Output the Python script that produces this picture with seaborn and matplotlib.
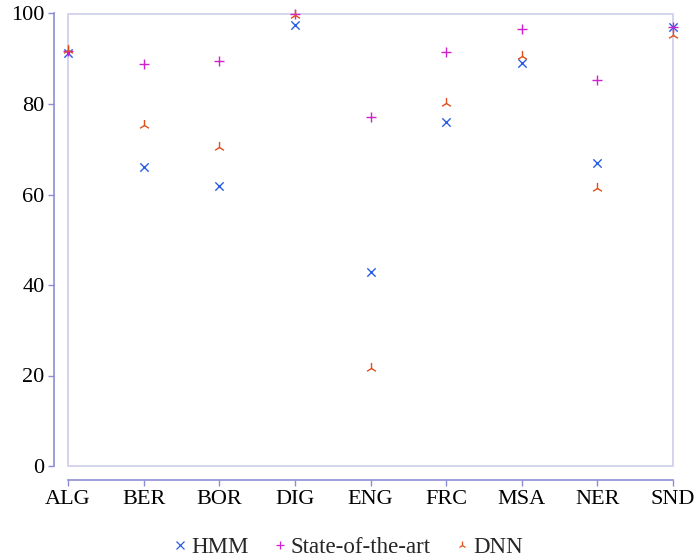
import matplotlib
matplotlib.use("Agg")
import matplotlib.pyplot as plt
import seaborn as sns
import pandas as pd
from matplotlib.lines import Line2D
from matplotlib.patches import Rectangle

categories = ["ALG", "BER", "BOR", "DIG", "ENG", "FRC", "MSA", "NER", "SND"]
hmm = [91.2, 66.1, 61.9, 97.5, 42.9, 76.1, 89.0, 67.0, 97.1]
sota = [91.7, 88.8, 89.4, 99.9, 77.1, 91.6, 96.5, 85.4, 97.1]
dnn = [92.0, 75.4, 70.5, 99.6, 21.7, 80.3, 90.6, 61.4, 95.3]
series_names = ["HMM", "State-of-the-art", "DNN"]
y_ticks = [0, 20, 40, 60, 80, 100]

colors = {"HMM": "#2a5ee0", "State-of-the-art": "#d020d0", "DNN": "#e0501e"}
markers = {"HMM": "x", "State-of-the-art": "+", "DNN": "2"}
sizes = {"HMM": 36, "State-of-the-art": 56, "DNN": 64}

sns.set_theme(style="white")
plt.rcParams["font.family"] = ["Liberation Serif", "DejaVu Serif"]

rows = []
for name, vals in zip(series_names, [hmm, sota, dnn]):
    for i, (c, v) in enumerate(zip(categories, vals)):
        rows.append({"idx": i, "cat": c, "value": v, "series": name})
df = pd.DataFrame(rows)

fig = plt.figure(figsize=(6.95, 5.59), dpi=100)
ax = fig.add_axes([68 / 695, 93 / 559, 605 / 695, 452.5 / 559])

for name in series_names:
    sub = df[df["series"] == name]
    sns.scatterplot(data=sub, x="idx", y="value", marker=markers[name],
                    color=colors[name], s=sizes[name], linewidth=1.0,
                    ax=ax, clip_on=False, zorder=3, legend=False)

ax.set_xlim(0, len(categories) - 1)
ax.set_ylim(0, 100)
ax.set_xticks(range(len(categories)))
ax.set_xticklabels(categories)
ax.set_yticks(y_ticks)
ax.set_xlabel("")
ax.set_ylabel("")

frame_col = "#cdcdea"
spine_col = "#8c8cd2"
for s in ["top", "right"]:
    ax.spines[s].set_visible(False)
for s in ["left", "bottom"]:
    ax.spines[s].set_position(("outward", 10))
    ax.spines[s].set_color(spine_col)
    ax.spines[s].set_linewidth(1.2)
ax.spines["left"].set_bounds(0, 100)
ax.spines["bottom"].set_bounds(0, len(categories) - 1)

ax.add_patch(Rectangle((0, 0), 1, 1, transform=ax.transAxes, fill=False,
                       edgecolor=frame_col, linewidth=1.2, clip_on=False, zorder=1))

ax.tick_params(axis="both", which="major", direction="out", length=4, width=1.0,
               color=spine_col, labelsize=16, labelcolor="black",
               bottom=True, left=True, top=False, right=False)
ax.tick_params(axis="y", pad=3)
ax.tick_params(axis="x", pad=3)

handles = [Line2D([], [], linestyle="none", marker=markers[n], color=colors[n],
                  markersize=6, markeredgewidth=0.9) for n in series_names]
fig.legend(handles, series_names, loc="lower center", bbox_to_anchor=(0.5, -0.014),
           ncol=3, frameon=False, fontsize=16.5, handlelength=0.7,
           handletextpad=0.15, columnspacing=1.0, borderaxespad=0.0)

fig.savefig("out.png", dpi=100)
